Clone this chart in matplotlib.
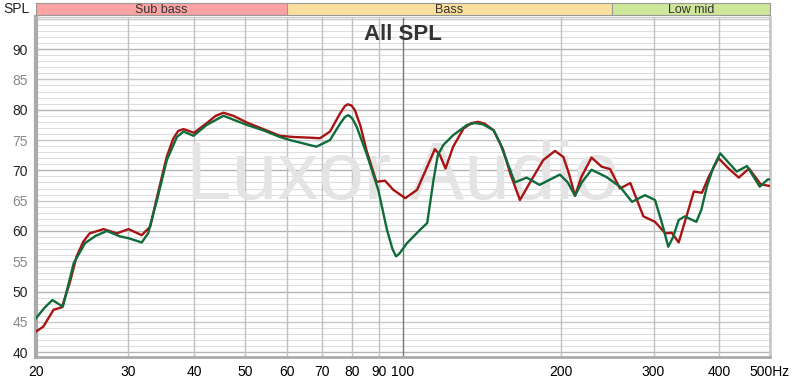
import matplotlib
matplotlib.use("Agg")
import matplotlib.pyplot as plt
from matplotlib.ticker import FixedLocator, NullFormatter

plt.rcParams["font.family"] = ["Liberation Sans", "DejaVu Sans"]

# red trace (freq Hz, SPL dB)
red_freq = [20, 20.65, 21.6, 22.4, 23.2, 23.9, 24.6, 25.3, 26.9, 28.5, 30, 31.8, 33.0, 34.0,
            35.5, 36.5, 37.3, 38.2, 40.0, 42.3, 44.0, 45.5, 47.5, 50.4, 54.2, 58.3, 61.8,
            66, 69.5, 72.6, 75.9, 77.5, 78.5, 79.8, 81.0, 83, 85.2, 89.0, 92.4, 95.8, 101,
            106.4, 111.2, 115, 117.6, 120.5, 124.6, 130.4, 135, 139, 143, 148.8, 155, 160,
            167, 174.8, 185, 194.8, 202, 207, 212.6, 218.6, 228.6, 239, 248, 259, 271,
            287, 302, 316, 325, 335, 348, 358, 371, 382, 399, 417, 436, 456, 480, 500]
red_spl = [43.4, 44.2, 47.0, 47.4, 51.5, 55.8, 58.2, 59.6, 60.3, 59.6, 60.3, 59.3, 60.7, 65.6,
           72.3, 75.2, 76.5, 76.8, 76.2, 77.8, 79.0, 79.5, 79.0, 77.9, 76.8, 75.7, 75.5,
           75.4, 75.3, 76.4, 79.4, 80.6, 80.9, 80.7, 79.9, 77.3, 73.3, 68.1, 68.3, 66.8, 65.4,
           66.8, 70.6, 73.5, 72.5, 70.3, 73.9, 76.9, 77.8, 78.0, 77.7, 76.6, 73.5, 69.5,
           65.1, 68.1, 71.7, 73.2, 72.2, 69.5, 65.8, 68.9, 72.1, 70.6, 70.2, 67.0, 67.9,
           62.4, 61.5, 59.6, 59.7, 58.1, 62.9, 66.5, 66.3, 68.9, 72.0, 70.3, 68.8, 70.3,
           67.7, 67.4]

# green trace
green_freq = [20, 20.8, 21.5, 22.5, 23.6, 24.8, 26, 27.3, 28.9, 30, 31.8, 32.7, 34.0, 35.5,
              37.1, 38.2, 39.9, 42.3, 45.5, 50.4, 54.2, 58.3, 60.9, 68.4, 72.6, 75.9, 77.5,
              78.7, 80, 81.6, 85.2, 89.7, 93.2, 95.5, 97, 98.5, 101.8, 107.8, 111.2, 114.3,
              116.5, 119.4, 124.6, 132.5, 137, 142, 148.8, 153, 157.4, 163.3, 172, 182,
              199, 206, 212.6, 219, 228.6, 244, 259, 273, 289, 302, 312, 320, 327, 335,
              344, 362, 370, 379, 390, 402, 432, 452, 478, 495, 500]
green_spl = [45.6, 47.4, 48.6, 47.5, 54.7, 58.0, 59.2, 60.0, 59.1, 58.8, 58.1, 59.6, 65.1, 71.7,
             75.5, 76.4, 75.7, 77.5, 79.0, 77.5, 76.6, 75.5, 75.0, 73.9, 75.0, 77.7, 78.8,
             79.1, 78.6, 77.2, 72.8, 66.8, 60.2, 57.0, 55.8, 56.3, 58.0, 60.2, 61.3, 68.4,
             72.5, 74.2, 75.8, 77.5, 77.8, 77.6, 76.6, 74.5, 71.7, 68.0, 68.8, 67.6,
             69.3, 68.0, 65.8, 68.0, 70.1, 68.9, 67.3, 64.8, 65.9, 65.1, 61.0, 57.4, 59.0, 61.8,
             62.4, 61.5, 63.5, 67.3, 70.5, 72.8, 69.8, 70.7, 67.3, 68.5, 68.5]

bands = ["Sub bass", "Bass", "Low mid"]
band_edges = [(20, 60), (60, 250), (250, 500)]
band_colors = ["#fda3a3", "#f9df9d", "#cfe79b"]

x_ticks = [20, 30, 40, 50, 60, 70, 80, 90, 100, 200, 300, 400, 500]
x_labels = ["20", "30", "40", "50", "60", "70", "80", "90", "100", "200", "300", "400", "500Hz"]
y_ticks = [40, 45, 50, 55, 60, 65, 70, 75, 80, 85, 90]

W, H = 792, 383
fig = plt.figure(figsize=(W / 100, H / 100), dpi=100)
fig.patch.set_facecolor("white")

x0, x1 = 36, 770
ax = fig.add_axes([x0 / W, (H - 357) / H, (x1 - x0) / W, (357 - 17) / H])
ax.set_xscale("log")
ax.set_xlim(20, 500)
ax.set_ylim(39.2, 95.3)

# grid
for yv in range(40, 96):
    if yv % 10 == 0:
        c, lw = "#b4b4b4", 1.0
    elif yv % 5 == 0:
        c, lw = "#c8c8c8", 1.0
    else:
        c, lw = "#dedede", 0.8
    ax.axhline(yv, color=c, lw=lw, zorder=0)
for xv in x_ticks:
    ax.axvline(xv, color="#777777" if xv == 100 else "#c0c0c0", lw=1.0, zorder=0)

ax.text(0.5, 0.525, "Luxor Audio", transform=ax.transAxes, ha="center", va="center",
        fontsize=59, color="#e4e4e4", zorder=1)
ax.text(0.5, 0.95, "All SPL", transform=ax.transAxes, ha="center", va="center",
        fontsize=16, fontweight="bold", color="#333333", zorder=5)

ax.plot(red_freq, red_spl, color="#a81414", lw=1.7, zorder=3)
ax.plot(green_freq, green_spl, color="#0f6b3a", lw=1.7, zorder=4)

ax.xaxis.set_major_locator(FixedLocator(x_ticks))
ax.set_xticklabels(x_labels)
ax.xaxis.set_minor_formatter(NullFormatter())
ax.xaxis.set_minor_locator(FixedLocator([]))
ax.set_yticks(y_ticks)
ax.tick_params(length=0, labelsize=10, pad=6)
for lab, yv in zip(ax.get_yticklabels(), y_ticks):
    lab.set_color("#888888" if yv % 10 else "#222222")

for side in ["top", "right"]:
    ax.spines[side].set_color("#c8c8c8")
ax.spines["left"].set_color("#aaaaaa")
ax.spines["left"].set_linewidth(3)
ax.spines["bottom"].set_color("#aaaaaa")
ax.spines["bottom"].set_linewidth(2)
ax.spines["right"].set_linewidth(2)

# band strip on top
bax = fig.add_axes([x0 / W, (H - 15) / H, (x1 - x0) / W, 12 / H])
bax.set_xscale("log")
bax.set_xlim(20, 500)
bax.set_ylim(0, 1)
for name, (lo, hi), col in zip(bands, band_edges, band_colors):
    bax.axvspan(lo, hi, color=col, lw=0)
    bax.axvline(hi, color="#999999", lw=0.8)
    bax.text((lo * hi) ** 0.5, 0.45, name, ha="center", va="center", fontsize=9, color="#333333")
bax.set_xticks([])
bax.set_yticks([])
bax.minorticks_off()
for s in bax.spines.values():
    s.set_color("#999999")
    s.set_linewidth(0.8)

fig.text(16 / W, 1 - 9 / H, "SPL", ha="center", va="center", fontsize=10, color="#222222")

fig.savefig("out.png", dpi=100)
